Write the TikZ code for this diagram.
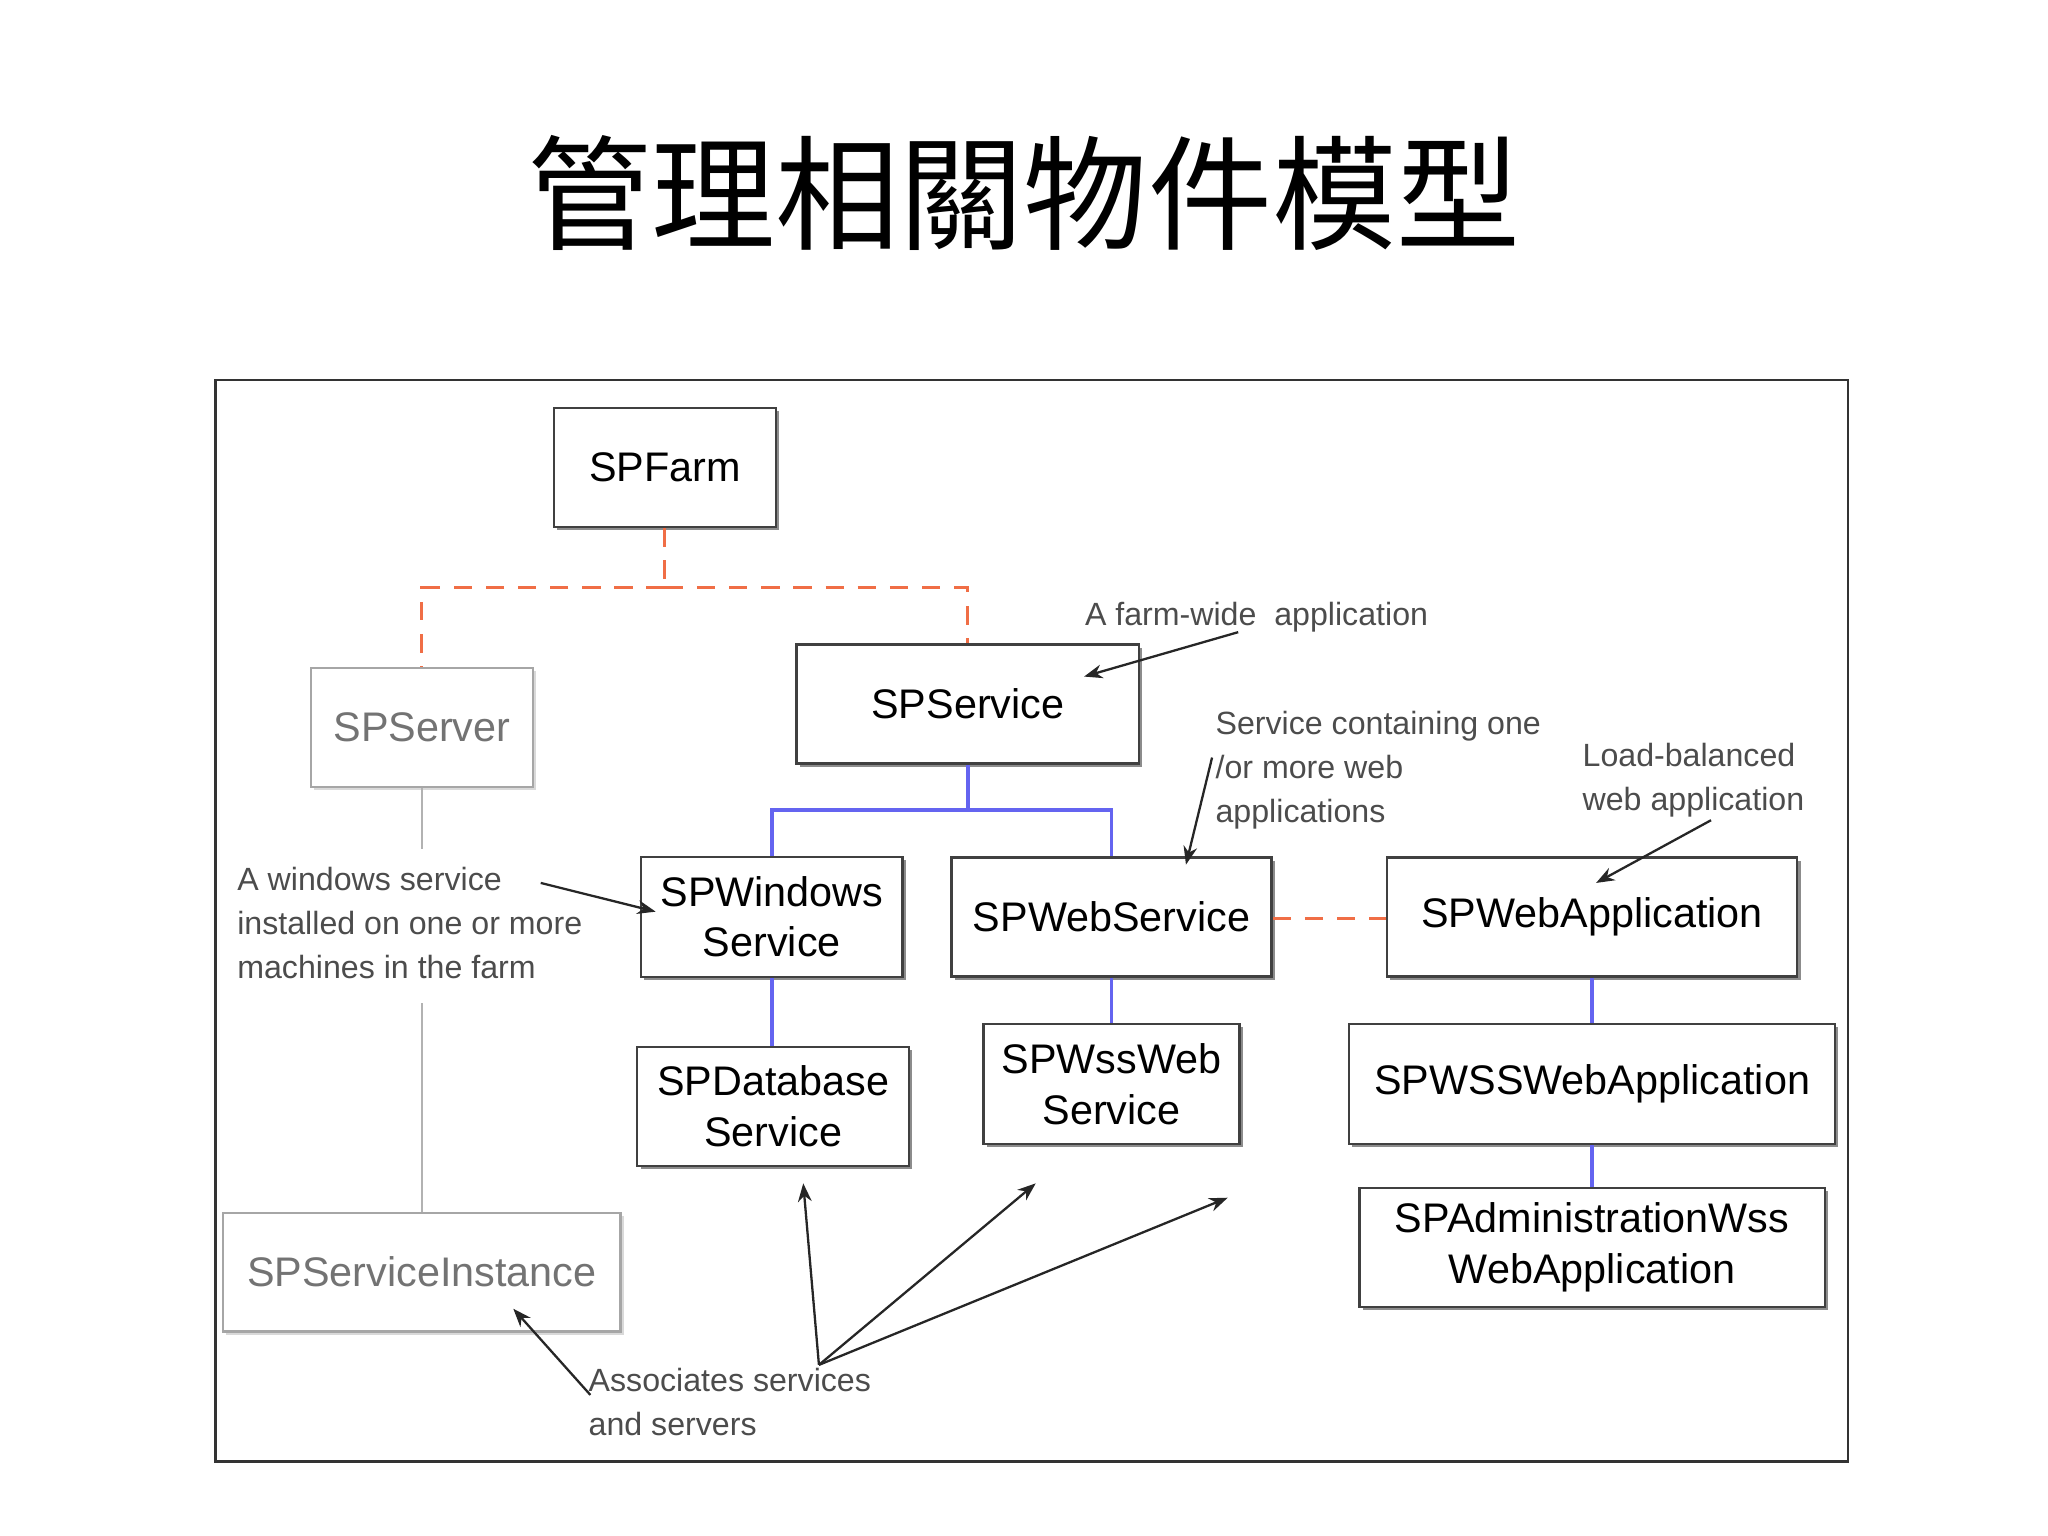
\documentclass[tikz,border=0pt]{standalone}
\usepackage{fontspec}
\setmainfont{Liberation Sans}
\newfontfamily\cjk{Noto Sans CJK TC}
\usetikzlibrary{shadows,arrows.meta}
\begin{document}
\begin{tikzpicture}[x=0.01cm,y=-0.01cm,
 box/.style={draw=black!75,line width=0.5pt,fill=white,inner sep=0pt,align=center,font=\fontsize{9}{11}\selectfont,drop shadow={shadow xshift=0.7pt,shadow yshift=-0.7pt,fill=black!45,opacity=1}},
 gbox/.style={box,draw=black!35,text=black!55,drop shadow={shadow xshift=0.7pt,shadow yshift=-0.7pt,fill=black!15,opacity=1}},
 note/.style={font=\fontsize{7}{9.6}\selectfont,text=black!70,align=left,inner sep=0pt,anchor=north west},
 orange/.style={draw={rgb,255:red,240;green,110;blue,70},dashed,line width=0.7pt,dash pattern=on 4pt off 3pt},
 blue/.style={draw={rgb,255:red,100;green,100;blue,240},line width=0.8pt},
 arr/.style={-{Stealth[length=4pt,width=3pt]},line width=0.5pt,black!85}]
\useasboundingbox (0,0) rectangle (1568,1176);
\node[font=\cjk\fontsize{27}{30}\selectfont] (title) at (784,148) {管理相關物件模型};
\draw[black!80,line width=0.5pt] (165,291) rectangle (1415,1119);
\node[box,minimum width=1.70cm,minimum height=0.91cm] (farm) at (509,358) {SPFarm};
\node[gbox,minimum width=1.70cm,minimum height=0.91cm] (server) at (323,557) {SPServer};
\node[box,minimum width=2.62cm,minimum height=0.91cm] (service) at (741,539) {SPService};
\node[box,minimum width=2.00cm,minimum height=0.92cm] (win) at (591,702) {SPWindows\\Service};
\node[box,minimum width=2.45cm,minimum height=0.91cm] (web) at (851,702) {SPWebService};
\node[box,minimum width=3.14cm,minimum height=0.91cm] (webapp) at (1219,702) {SPWebApplication};
\node[box,minimum width=2.08cm,minimum height=0.91cm] (db) at (592,847) {SPDatabase\\Service};
\node[box,minimum width=1.96cm,minimum height=0.92cm] (wss) at (851,830) {SPWssWeb\\Service};
\node[box,minimum width=3.72cm,minimum height=0.92cm] (wssapp) at (1219,830) {SPWSSWebApplication};
\node[box,minimum width=3.56cm,minimum height=0.91cm] (admin) at (1219,955) {SPAdministrationWss\\WebApplication};
\node[gbox,minimum width=3.04cm,minimum height=0.91cm] (inst) at (323,974) {SPServiceInstance};
% orange dashed
\coordinate (oj) at (509,450);
\draw[orange] (farm.south) -- (oj);
\draw[orange] (oj) -| (server.north);
\draw[orange] (oj) -| (service.north);
\draw[orange] (web.east |- 0,703) -- (webapp.west |- 0,703);
% blue
\coordinate (bj) at (741,620);
\draw[blue] (service.south) -- (bj);
\draw[blue] (bj) -| (win.north);
\draw[blue] (bj) -| (web.north);
\draw[blue] (win.south) -- (db.north -| win.south);
\draw[blue] (web.south) -- (wss.north);
\draw[blue] (webapp.south) -- (wssapp.north);
\draw[blue] (wssapp.south) -- (admin.north);
% gray
\coordinate (g1) at (323,650);
\coordinate (g2) at (323,768);
\draw[black!30,line width=0.6pt] (server.south) -- (g1);
\draw[black!30,line width=0.6pt] (g2) -- (inst.north);
% notes
\node[note] (n1) at (830,460) {A farm-wide \ application};
\node[note] (n2) at (930,544) {Service containing one\\/or more web\\applications};
\node[note] (n3) at (1211,568) {Load-balanced\\web application};
\node[note] (n4) at (181,663) {A windows service\\installed on one or more\\machines in the farm};
\node[note] (n5) at (450,1047) {Associates services\\and servers};
\coordinate (a1) at (948,484); \coordinate (t1) at (830,518);
\draw[arr] (a1) -- (t1);
\coordinate (a2) at (928,580); \coordinate (t2) at (908,662);
\draw[arr] (a2) -- (t2);
\coordinate (a3) at (1310,628); \coordinate (t3) at (1222,676);
\draw[arr] (a3) -- (t3);
\coordinate (a4) at (414,676); \coordinate (t4) at (502,698);
\draw[arr] (a4) -- (t4);
\coordinate (a5) at (627,1045);
\coordinate (t5) at (615,906); \coordinate (t6) at (793,906); \coordinate (t7) at (940,917);
\draw[arr] (a5) -- (t5);
\draw[arr] (a5) -- (t6);
\draw[arr] (a5) -- (t7);
\coordinate (a8) at (452,1068); \coordinate (t8) at (393,1002);
\draw[arr] (a8) -- (t8);
\end{tikzpicture}
\end{document}
